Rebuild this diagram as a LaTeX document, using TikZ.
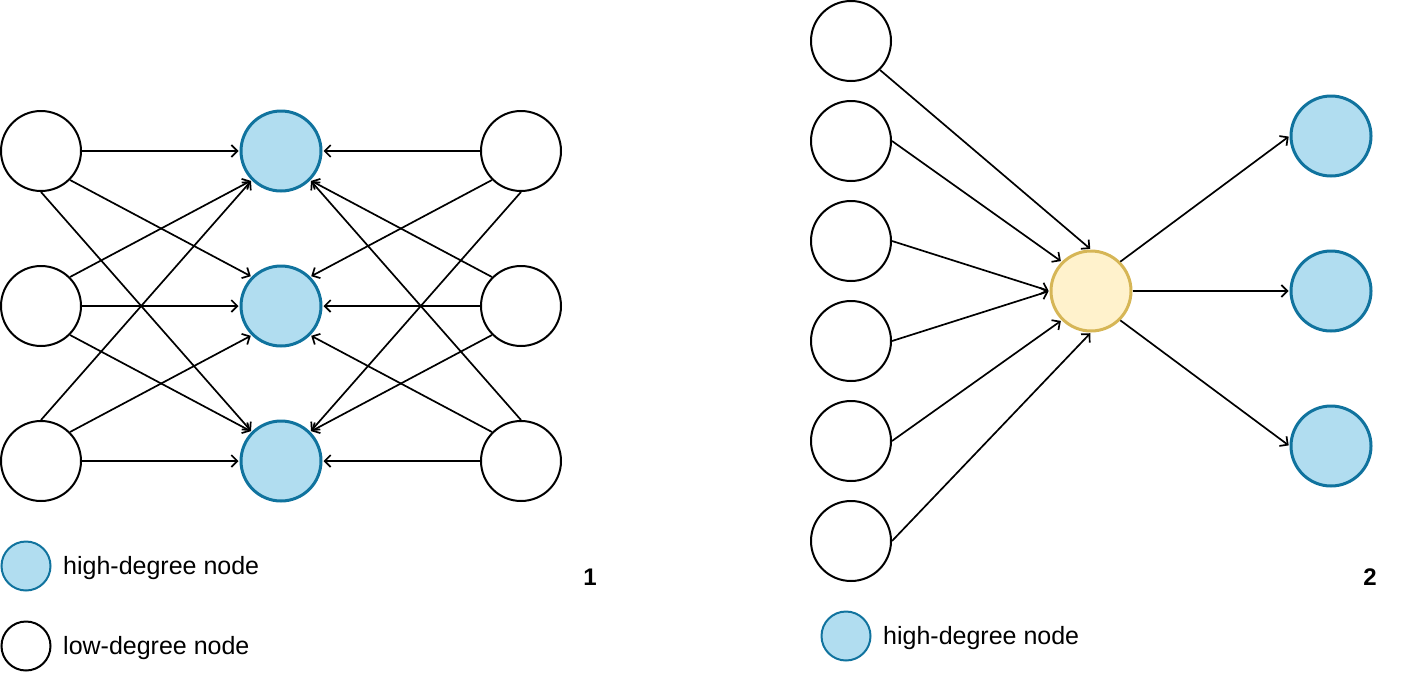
\documentclass[tikz,border=0pt]{standalone}
\usepackage{fontspec}
\setmainfont{Liberation Sans}
\usetikzlibrary{arrows.meta}
\definecolor{hifill}{HTML}{B1DDF0}
\definecolor{hidraw}{HTML}{10739E}
\definecolor{hubfill}{HTML}{FFF2CC}
\definecolor{hubdraw}{HTML}{D6B656}
\tikzset{
  lownode/.style={circle, draw=black, line width=2pt, fill=white, minimum size=80pt, inner sep=0pt},
  highnode/.style={circle, draw=hidraw, line width=3pt, fill=hifill, minimum size=80pt, inner sep=0pt},
  hubnode/.style={circle, draw=hubdraw, line width=3pt, fill=hubfill, minimum size=80pt, inner sep=0pt},
  keyhigh/.style={circle, draw=hidraw, line width=2pt, fill=hifill, minimum size=49pt, inner sep=0pt},
  keylow/.style={circle, draw=black, line width=2pt, fill=white, minimum size=49pt, inner sep=0pt},
  keytext/.style={anchor=west, inner sep=0pt, font=\fontsize{25}{29}\selectfont},
  paneltag/.style={inner sep=0pt, font=\fontsize{24}{28}\selectfont\bfseries},
  edge/.style={line width=1.7pt, -{Straight Barb[length=6pt,width=12pt,line width=1.7pt]}, shorten >=1pt}
}
\begin{document}
\begin{tikzpicture}[x=1pt,y=-1pt]
\useasboundingbox (0,0) rectangle (1402,672);

% ---- panel 1: two low-degree layers feeding three high-degree nodes
\node[lownode] (L1) at (41,151) {};
\node[lownode] (L2) at (41,306) {};
\node[lownode] (L3) at (41,461) {};
\node[highnode] (B1) at (281,151) {};
\node[highnode] (B2) at (281,306) {};
\node[highnode] (B3) at (281,461) {};
\node[lownode] (R1) at (521,151) {};
\node[lownode] (R2) at (521,306) {};
\node[lownode] (R3) at (521,461) {};

\draw[edge] (L1.east) -- (B1.west);
\draw[edge] (L1.-45) -- (B2.135);
\draw[edge] (L1.south) -- (B3.135);
\draw[edge] (L2.45) -- (B1.-135);
\draw[edge] (L2.east) -- (B2.west);
\draw[edge] (L2.-45) -- (B3.135);
\draw[edge] (L3.north) -- (B1.-135);
\draw[edge] (L3.45) -- (B2.-135);
\draw[edge] (L3.east) -- (B3.west);

\draw[edge] (R1.west) -- (B1.east);
\draw[edge] (R1.-135) -- (B2.45);
\draw[edge] (R1.south) -- (B3.45);
\draw[edge] (R2.135) -- (B1.-45);
\draw[edge] (R2.west) -- (B2.east);
\draw[edge] (R2.-135) -- (B3.45);
\draw[edge] (R3.north) -- (B1.-45);
\draw[edge] (R3.135) -- (B2.-45);
\draw[edge] (R3.west) -- (B3.east);

% legend of panel 1
\node[keyhigh] (k1) at (26,566) {};
\node[keytext] (k1t) at (63,568) {high-degree node};
\node[keylow] (k2) at (26,646) {};
\node[keytext] (k2t) at (63,648) {low-degree node};
\node[paneltag] (p1) at (590,577) {1};

% ---- panel 2: many sources through one hub to high-degree nodes
\node[lownode] (A1) at (851,41) {};
\node[lownode] (A2) at (851,141) {};
\node[lownode] (A3) at (851,241) {};
\node[lownode] (A4) at (851,341) {};
\node[lownode] (A5) at (851,441) {};
\node[lownode] (A6) at (851,541) {};
\node[hubnode] (Y) at (1091,291) {};
\node[highnode] (C1) at (1331,136) {};
\node[highnode] (C2) at (1331,291) {};
\node[highnode] (C3) at (1331,446) {};

\draw[edge] (A1.-45) -- (Y.north);
\draw[edge] (A2.east) -- (Y.135);
\draw[edge] (A3.east) -- (Y.west);
\draw[edge] (A4.east) -- (Y.west);
\draw[edge] (A5.east) -- (Y.-135);
\draw[edge] (A6.east) -- (Y.south);
\draw[edge] (Y.45) -- (C1.west);
\draw[edge] (Y.east) -- (C2.west);
\draw[edge] (Y.-45) -- (C3.west);

% legend of panel 2
\node[keyhigh] (k3) at (846,636) {};
\node[keytext] (k3t) at (883,638) {high-degree node};
\node[paneltag] (p2) at (1370,577) {2};
\end{tikzpicture}
\end{document}
